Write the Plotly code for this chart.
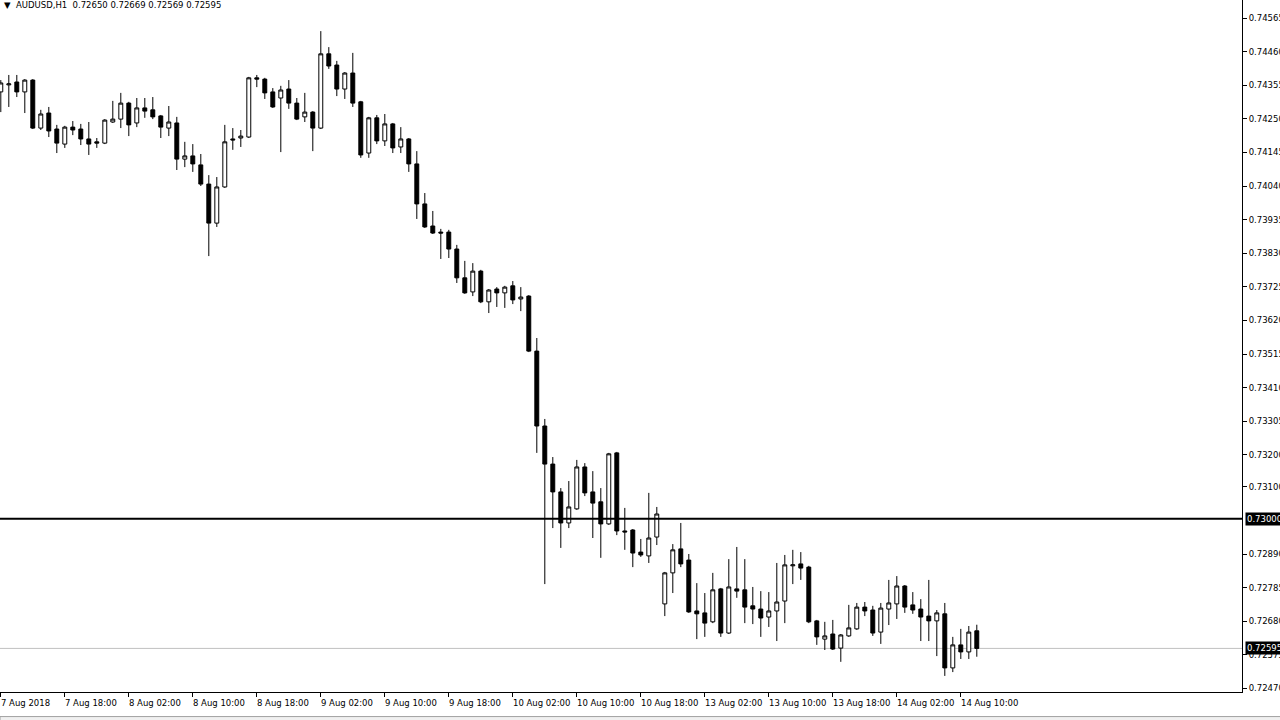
import plotly.graph_objects as go

symbol = "AUDUSD,H1"

x_labels = ["7 Aug 2018", "7 Aug 18:00", "8 Aug 02:00", "8 Aug 10:00", "8 Aug 18:00",
            "9 Aug 02:00", "9 Aug 10:00", "9 Aug 18:00", "10 Aug 02:00", "10 Aug 10:00",
            "10 Aug 18:00", "13 Aug 02:00", "13 Aug 10:00", "13 Aug 18:00", "14 Aug 02:00",
            "14 Aug 10:00"]
label_step = 8  # one label every 8 hourly bars

y_tick_vals = [0.74565, 0.74460, 0.74355, 0.74250, 0.74145, 0.74040, 0.73935, 0.73830,
               0.73725, 0.73620, 0.73515, 0.73410, 0.73305, 0.73200, 0.73100, 0.72890,
               0.72785, 0.72680, 0.72575, 0.72470]
y_tick_text = ["0.74565", "0.74460", "0.74355", "0.74250", "0.74145", "0.74040", "0.73935",
               "0.73830", "0.73725", "0.73620", "0.73515", "0.73410", "0.73305", "0.73200",
               "0.73100", "0.72890", "0.72785", "0.72680", "0.72575", "0.72470"]

level_price = 0.73000

opens = [0.74334, 0.74356, 0.74365, 0.74334, 0.74371, 0.74221, 0.74268, 0.74218, 0.74171, 0.74224,
         0.74218, 0.74187, 0.74178, 0.74174, 0.74240, 0.74249, 0.74299, 0.74237, 0.74284, 0.74278,
         0.74259, 0.74221, 0.74237, 0.74124, 0.74134, 0.74106, 0.74046, 0.73924, 0.74037, 0.74187,
         0.74190, 0.74193, 0.74378, 0.74374, 0.74334, 0.74315, 0.74343, 0.74299, 0.74256, 0.74271,
         0.74221, 0.74453, 0.74418, 0.74343, 0.74393, 0.74303, 0.74143, 0.74253, 0.74181, 0.74234,
         0.74162, 0.74187, 0.74109, 0.73984, 0.73915, 0.73896, 0.73896, 0.73843, 0.73753, 0.73709,
         0.73774, 0.73678, 0.73718, 0.73706, 0.73728, 0.73687, 0.73696, 0.73524, 0.73290, 0.73171,
         0.73084, 0.72987, 0.73031, 0.73162, 0.73084, 0.73053, 0.72984, 0.73206, 0.72962, 0.72965,
         0.72896, 0.72884, 0.72943, 0.72734, 0.72831, 0.72906, 0.72871, 0.72712, 0.72706, 0.72678,
         0.72781, 0.72643, 0.72781, 0.72778, 0.72728, 0.72718, 0.72693, 0.72712, 0.72743, 0.72853,
         0.72859, 0.72849, 0.72681, 0.72624, 0.72640, 0.72596, 0.72634, 0.72656, 0.72724, 0.72715,
         0.72646, 0.72718, 0.72734, 0.72790, 0.72731, 0.72718, 0.72696, 0.72681, 0.72703, 0.72534,
         0.72606, 0.72584, 0.72650]
highs = [0.74371, 0.74387, 0.74387, 0.74374, 0.74374, 0.74278, 0.74287, 0.74231, 0.74228, 0.74243,
         0.74234, 0.74240, 0.74190, 0.74249, 0.74306, 0.74331, 0.74303, 0.74315, 0.74315, 0.74318,
         0.74262, 0.74290, 0.74256, 0.74178, 0.74171, 0.74140, 0.74074, 0.74068, 0.74231, 0.74221,
         0.74215, 0.74381, 0.74387, 0.74378, 0.74346, 0.74353, 0.74371, 0.74315, 0.74331, 0.74274,
         0.74524, 0.74474, 0.74431, 0.74396, 0.74456, 0.74306, 0.74256, 0.74262, 0.74265, 0.74237,
         0.74224, 0.74190, 0.74149, 0.74018, 0.73962, 0.73906, 0.73903, 0.73856, 0.73806, 0.73799,
         0.73778, 0.73718, 0.73724, 0.73728, 0.73743, 0.73724, 0.73699, 0.73565, 0.73312, 0.73193,
         0.73096, 0.73118, 0.73184, 0.73174, 0.73149, 0.73096, 0.73206, 0.73209, 0.73034, 0.72968,
         0.72937, 0.73081, 0.73037, 0.72834, 0.72921, 0.72987, 0.72890, 0.72799, 0.72768, 0.72831,
         0.72784, 0.72874, 0.72912, 0.72874, 0.72787, 0.72774, 0.72771, 0.72862, 0.72887, 0.72903,
         0.72896, 0.72853, 0.72684, 0.72678, 0.72684, 0.72640, 0.72731, 0.72737, 0.72740, 0.72728,
         0.72737, 0.72809, 0.72821, 0.72793, 0.72771, 0.72749, 0.72809, 0.72715, 0.72737, 0.72631,
         0.72656, 0.72665, 0.72669]
lows = [0.74271, 0.74287, 0.74318, 0.74268, 0.74218, 0.74215, 0.74193, 0.74143, 0.74159, 0.74199,
        0.74168, 0.74137, 0.74159, 0.74171, 0.74237, 0.74221, 0.74196, 0.74224, 0.74253, 0.74249,
        0.74190, 0.74196, 0.74090, 0.74099, 0.74084, 0.74040, 0.73821, 0.73912, 0.74034, 0.74153,
        0.74162, 0.74190, 0.74349, 0.74312, 0.74284, 0.74146, 0.74281, 0.74246, 0.74240, 0.74149,
        0.74218, 0.74406, 0.74321, 0.74312, 0.74287, 0.74128, 0.74128, 0.74171, 0.74165, 0.74143,
        0.74143, 0.74084, 0.73937, 0.73909, 0.73890, 0.73812, 0.73815, 0.73737, 0.73703, 0.73696,
        0.73674, 0.73643, 0.73662, 0.73659, 0.73671, 0.73649, 0.73521, 0.73206, 0.72796, 0.72971,
        0.72909, 0.72971, 0.73028, 0.73071, 0.72940, 0.72878, 0.72981, 0.72949, 0.72903, 0.72849,
        0.72881, 0.72862, 0.72918, 0.72696, 0.72768, 0.72849, 0.72706, 0.72624, 0.72631, 0.72674,
        0.72631, 0.72640, 0.72753, 0.72674, 0.72671, 0.72631, 0.72662, 0.72618, 0.72674, 0.72796,
        0.72809, 0.72674, 0.72606, 0.72590, 0.72590, 0.72553, 0.72631, 0.72653, 0.72696, 0.72634,
        0.72609, 0.72668, 0.72687, 0.72706, 0.72703, 0.72618, 0.72618, 0.72571, 0.72509, 0.72521,
        0.72562, 0.72562, 0.72569]
closes = [0.74362, 0.74359, 0.74334, 0.74371, 0.74221, 0.74265, 0.74212, 0.74174, 0.74224, 0.74215,
          0.74187, 0.74171, 0.74174, 0.74246, 0.74249, 0.74299, 0.74231, 0.74284, 0.74274, 0.74256,
          0.74224, 0.74240, 0.74124, 0.74134, 0.74109, 0.74046, 0.73924, 0.74037, 0.74178, 0.74184,
          0.74196, 0.74378, 0.74374, 0.74331, 0.74287, 0.74340, 0.74299, 0.74249, 0.74271, 0.74221,
          0.74453, 0.74415, 0.74343, 0.74393, 0.74299, 0.74137, 0.74253, 0.74181, 0.74234, 0.74159,
          0.74187, 0.74109, 0.73984, 0.73912, 0.73893, 0.73893, 0.73843, 0.73753, 0.73706, 0.73774,
          0.73678, 0.73715, 0.73706, 0.73724, 0.73684, 0.73693, 0.73524, 0.73290, 0.73171, 0.73084,
          0.72987, 0.73037, 0.73162, 0.73081, 0.73049, 0.72984, 0.73203, 0.72962, 0.72959, 0.72893,
          0.72887, 0.72940, 0.73015, 0.72831, 0.72903, 0.72859, 0.72709, 0.72703, 0.72674, 0.72778,
          0.72643, 0.72787, 0.72774, 0.72724, 0.72718, 0.72690, 0.72712, 0.72740, 0.72856, 0.72856,
          0.72846, 0.72678, 0.72631, 0.72634, 0.72593, 0.72637, 0.72659, 0.72724, 0.72712, 0.72643,
          0.72721, 0.72737, 0.72790, 0.72724, 0.72715, 0.72693, 0.72681, 0.72706, 0.72534, 0.72606,
          0.72584, 0.72646, 0.72595]

bar_index = list(range(len(opens)))
FONT = "DejaVu Sans"

fig = go.Figure(go.Candlestick(
    x=bar_index, open=opens, high=highs, low=lows, close=closes,
    increasing=dict(line=dict(color="black", width=1), fillcolor="white"),
    decreasing=dict(line=dict(color="black", width=1), fillcolor="black"),
    whiskerwidth=0, hoverinfo="skip", showlegend=False,
))

label_pos = [i * label_step for i in range(len(x_labels))]

annotations = []
for pos, txt in zip(label_pos, x_labels):
    annotations.append(dict(x=pos, y=0, xref="x", yref="paper", text=txt, showarrow=False,
                            xanchor="left", yanchor="top", xshift=-2, yshift=-4,
                            font=dict(family=FONT, size=8.5, color="black")))

title_txt = "▼  %s  %.5f %.5f %.5f %.5f" % (symbol, opens[-1], highs[-1], lows[-1], closes[-1])
annotations.append(dict(x=0, y=1, xref="paper", yref="paper", text=title_txt, showarrow=False,
                        xanchor="left", yanchor="top", xshift=2, yshift=2,
                        font=dict(family=FONT, size=8.5, color="black")))

for val in [level_price, closes[-1]]:
    annotations.append(dict(x=1, y=val, xref="paper", yref="y", text="%.5f" % val, showarrow=False,
                            xanchor="left", yanchor="middle", xshift=3, bgcolor="black",
                            borderpad=1, font=dict(family=FONT, size=8.5, color="white")))

shapes = [
    dict(type="line", xref="paper", yref="y", x0=0, x1=1, y0=level_price, y1=level_price,
         line=dict(color="black", width=2), layer="above"),
    dict(type="line", xref="paper", yref="y", x0=0, x1=1, y0=closes[-1], y1=closes[-1],
         line=dict(color="#c0c0c0", width=1), layer="below"),
    dict(type="rect", xref="paper", yref="paper", x0=0, x1=1.04, y0=-0.0355, y1=-0.045,
         fillcolor="#f0f0f0", line=dict(color="#a0a0a0", width=1)),
]

fig.update_layout(
    width=1280, height=720,
    margin=dict(l=0, r=38, t=0, b=28, autoexpand=False),
    paper_bgcolor="white", plot_bgcolor="white",
    boxgap=0.3,
    showlegend=False,
    xaxis=dict(range=[-0.1, 155.15], rangeslider=dict(visible=False), showgrid=False,
               zeroline=False, tickmode="array", tickvals=label_pos, showticklabels=False,
               ticks="outside", ticklen=4, tickcolor="black", showline=True,
               linecolor="black", linewidth=1, automargin=False),
    yaxis=dict(range=[0.7245875, 0.7462125], side="right", showgrid=False, zeroline=False,
               tickmode="array", tickvals=y_tick_vals, ticktext=y_tick_text,
               ticks="outside", ticklen=4, tickcolor="black", showline=True,
               linecolor="black", linewidth=1, automargin=False,
               tickfont=dict(family=FONT, size=8.5, color="black")),
    annotations=annotations,
    shapes=shapes,
)

fig.write_html("out.html",
               config={"displayModeBar": False, "staticPlot": True},
               post_script="document.body.style.margin='0';document.body.style.overflow='hidden';")
